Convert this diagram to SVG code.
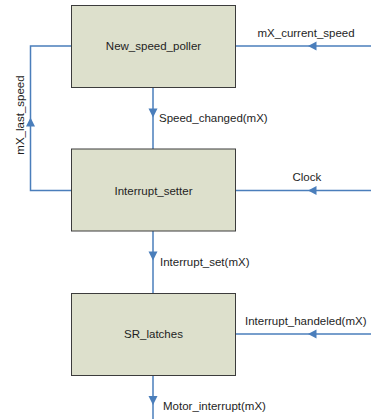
<svg xmlns="http://www.w3.org/2000/svg" width="371" height="419" viewBox="0 0 371 419">
  <style>
    .box { fill: #dde0cc; stroke: #3c3c3c; stroke-width: 1; }
    .wire { fill: none; stroke: #4a7ebb; stroke-width: 1.5; }
    .head { fill: #4a7ebb; }
    text { font-family: "Liberation Sans", Arial, sans-serif; font-size: 11.5px; fill: #1e1e1e; }
    .mid { text-anchor: middle; }
  </style>
  <rect width="371" height="419" fill="#ffffff"/>

  <g id="connectors">
    <!-- mX_current_speed into New_speed_poller -->
    <path class="wire" d="M371 46 H235.5"/>
    <polygon class="head" points="308,46 316.5,41.5 316.5,50.5"/>
    <!-- mX_last_speed feedback loop -->
    <path class="wire" d="M71 190.5 H30.5 V46 H71"/>
    <polygon class="head" points="30.5,117.5 26,126.5 35,126.5"/>
    <!-- Speed_changed(mX) -->
    <path class="wire" d="M153 87.5 V149"/>
    <polygon class="head" points="153,117.5 148.5,108.5 157.5,108.5"/>
    <!-- Clock -->
    <path class="wire" d="M371 190.5 H235.5"/>
    <polygon class="head" points="308,190.5 316.5,186 316.5,195"/>
    <!-- Interrupt_set(mX) -->
    <path class="wire" d="M153 231 V293"/>
    <polygon class="head" points="153,260.5 148.5,251.5 157.5,251.5"/>
    <!-- Interrupt_handeled(mX) -->
    <path class="wire" d="M371 334 H235.5"/>
    <polygon class="head" points="308,334 316.5,329.5 316.5,338.5"/>
    <!-- Motor_interrupt(mX) -->
    <path class="wire" d="M153 375.5 V419"/>
    <polygon class="head" points="153,405 148.5,396 157.5,396"/>

    <text x="257.5" y="36.5">mX_current_speed</text>
    <text transform="translate(23.5 115) rotate(-90)" class="mid">mX_last_speed</text>
    <text x="159" y="121.5">Speed_changed(mX)</text>
    <text x="292.5" y="181">Clock</text>
    <text x="160" y="266">Interrupt_set(mX)</text>
    <text x="245" y="325">Interrupt_handeled(mX)</text>
    <text x="163" y="409.5">Motor_interrupt(mX)</text>
  </g>

  <g id="new_speed_poller">
    <rect class="box" x="71.5" y="5.5" width="164" height="82"/>
    <text class="mid" x="153.5" y="50">New_speed_poller</text>
  </g>
  <g id="interrupt_setter">
    <rect class="box" x="71.5" y="149" width="164" height="82"/>
    <text class="mid" x="153.5" y="194.5">Interrupt_setter</text>
  </g>
  <g id="sr_latches">
    <rect class="box" x="71.5" y="293.5" width="164" height="82"/>
    <text class="mid" x="153.5" y="338">SR_latches</text>
  </g>
</svg>
